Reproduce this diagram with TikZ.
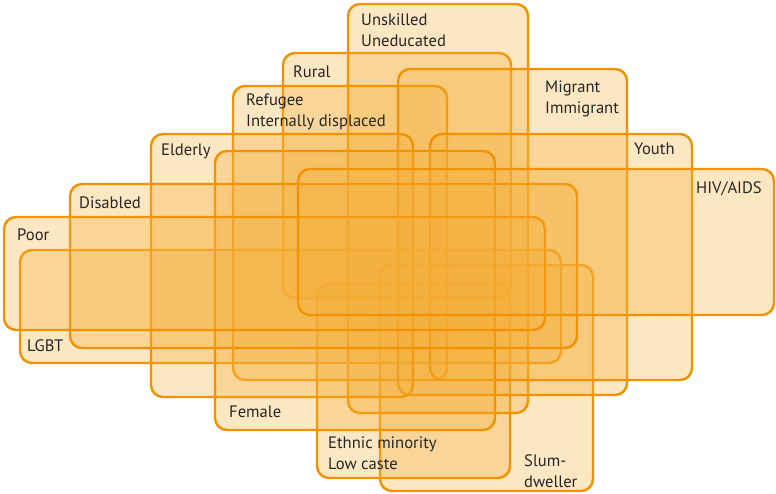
\documentclass[tikz,border=0pt]{standalone}
\usepackage{fontspec}
\setmainfont{PT Sans}
\usepackage{tikz}

\definecolor{grpline}{RGB}{243,146,0}
\definecolor{grpfill}{RGB}{244,174,56}

\tikzset{
  grp/.style={draw=grpline, line width=2.4pt, fill=grpfill, fill opacity=0.3, rounded corners=12pt},
  lbl/.style={anchor=north west, inner sep=0pt, align=left, text=black!85, font=\fontsize{16.6}{21}\selectfont}
}

\begin{document}
\begin{tikzpicture}[x=1pt, y=-1pt]
      \useasboundingbox (0,0) rectangle (776,493);

      % groups, the ones underneath first
      \draw[grp] (380,265) rectangle (593,491);
      \draw[grp] (317,284) rectangle (510,478);
      \draw[grp] (283,53) rectangle (511,298);
      \draw[grp] (20,250) rectangle (561,363);
      \draw[grp] (348,4) rectangle (528,413);
      \draw[grp] (233,86) rectangle (447,380);
      \draw[grp] (398,69) rectangle (627,395);
      \draw[grp] (151,134) rectangle (413,397);
      \draw[grp] (430,134) rectangle (692,380);
      \draw[grp] (215,151) rectangle (495,430);
      \draw[grp] (70,184) rectangle (577,348);
      \draw[grp] (4,217) rectangle (545,330);
      \draw[grp] (298,169) rectangle (774,315);

      \node[lbl] (unskilled) at (361,14) {Unskilled\\Uneducated};
      \node[lbl] (rural) at (293,66) {Rural};
      \node[lbl] (refugee) at (246,94) {Refugee\\Internally displaced};
      \node[lbl] (migrant) at (545,81) {Migrant\\Immigrant};
      \node[lbl] (elderly) at (161,144) {Elderly};
      \node[lbl] (youth) at (634,142.5) {Youth};
      \node[lbl] (disabled) at (79,197) {Disabled};
      \node[lbl] (hiv) at (696,181) {HIV/AIDS};
      \node[lbl] (poor) at (17,229) {Poor};
      \node[lbl] (lgbt) at (27,339.5) {LGBT};
      \node[lbl] (female) at (229,406) {Female};
      \node[lbl] (ethnic) at (328,437) {Ethnic minority\\Low caste};
      \node[lbl] (slum) at (524,454) {Slum-\\dweller};

    \end{tikzpicture}
\end{document}
